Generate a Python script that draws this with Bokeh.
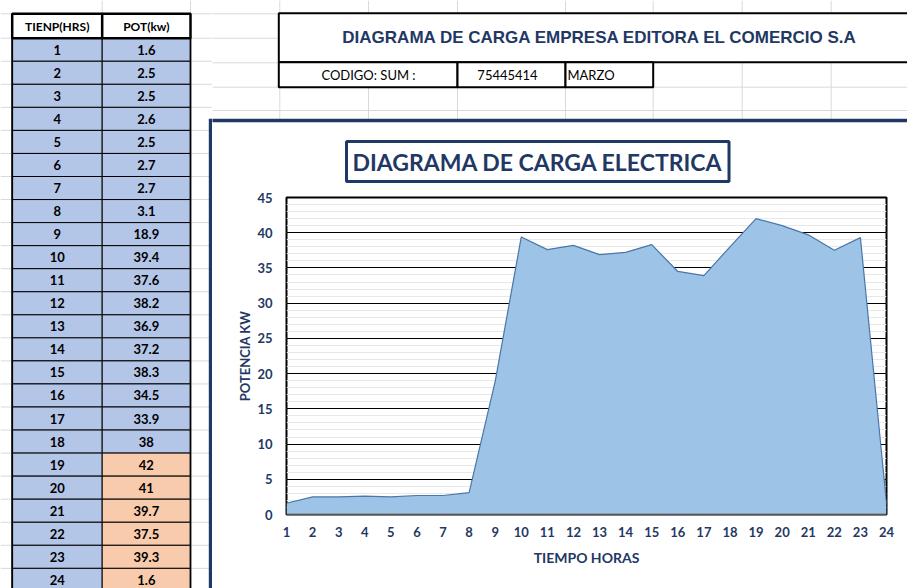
from bokeh.plotting import figure
from bokeh.layouts import row, column
from bokeh.models import Range1d, FixedTicker, Span
from bokeh.embed import file_html
from bokeh.resources import INLINE
from bokeh.core.properties import value

# ---------------- data ----------------
hours = list(range(1, 25))
power = [1.6, 2.5, 2.5, 2.6, 2.5, 2.7, 2.7, 3.1, 18.9, 39.4, 37.6, 38.2,
         36.9, 37.2, 38.3, 34.5, 33.9, 38, 42, 41, 39.7, 37.5, 39.3, 1.6]
peak_hours = [19, 20, 21, 22, 23, 24]
y_ticks = [0, 5, 10, 15, 20, 25, 30, 35, 40, 45]
x_ticks = hours
table_headers = ["TIENP(HRS)", "POT(kw)"]
sheet_title = "DIAGRAMA DE CARGA EMPRESA EDITORA EL COMERCIO S.A"
code_label = "CODIGO: SUM :"
code_value = "75445414"
month = "MARZO"
chart_title = "DIAGRAMA DE CARGA ELECTRICA"
y_label = "POTENCIA KW"
x_label = "TIEMPO HORAS"

# ---------------- style ----------------
NAVY = "#1F3864"
BLUE_CELL = "#B4C6E7"
ORANGE_CELL = "#F8CBAD"
GRID = "#D9D9D9"
FONT = value("Lato")

# ---------------- table (left) ----------------
ROW_TOP = 37.7
ROW_H = 23.05


def ry(ref_y):
    return (ref_y - ROW_TOP) / ROW_H + 0.5


t = figure(width=212, height=588, x_range=Range1d(0, 212),
           y_range=Range1d(ry(588), ry(0)), toolbar_location=None,
           output_backend="svg", min_border=0, x_axis_type=None, y_axis_type=None,
           frame_align=False)
t.grid.visible = False
t.outline_line_color = None

C0L, C0R, C1R = 11.7, 101.7, 190.0
# spreadsheet gridlines
bounds = [ry(13.3)] + [hr + 0.5 for hr in range(0, 25)]
t.segment(x0=[0] * len(bounds), y0=bounds, x1=[C0L] * len(bounds), y1=bounds,
          line_color=GRID, line_width=1)
t.segment(x0=[C1R] * len(bounds), y0=bounds, x1=[212] * len(bounds), y1=bounds,
          line_color=GRID, line_width=1)
t.segment(x0=[C0R, C1R], y0=[ry(0), ry(0)], x1=[C0R, C1R], y1=[ry(13.3), ry(13.3)],
          line_color=GRID, line_width=1)

cell_colors = [ORANGE_CELL if hr in peak_hours else BLUE_CELL for hr in hours]
t.quad(left=C0L, right=C0R, top=[hr - 0.5 for hr in hours], bottom=[hr + 0.5 for hr in hours],
       fill_color=BLUE_CELL, line_color="black", line_width=1)
t.quad(left=C0R, right=C1R, top=[hr - 0.5 for hr in hours], bottom=[hr + 0.5 for hr in hours],
       fill_color=cell_colors, line_color="black", line_width=1)
# outer border of body
t.segment(x0=[C0L, C1R], y0=[0.5, 0.5], x1=[C0L, C1R], y1=[26, 26],
          line_color="black", line_width=1.8)
# header row
t.quad(left=[C0L, C0R], right=[C0R, C1R], top=ry(13.3), bottom=0.5,
       fill_color="white", line_color="black", line_width=2.5)
t.text(x=[(C0L + C0R) / 2, (C0R + C1R) / 2], y=[(ry(13.3) + 0.5) / 2] * 2, text=table_headers,
       text_font=FONT, text_font_style="bold", text_font_size="12px", text_color="black",
       text_align="center", text_baseline="middle")
t.text(x=(C0L + C0R) / 2, y=hours, text=[str(hr) for hr in hours],
       text_font=FONT, text_font_style="bold", text_font_size="13px", text_color="black",
       text_align="center", text_baseline="middle")
t.text(x=(C0R + C1R) / 2, y=hours, text=[f"{v:g}" for v in power],
       text_font=FONT, text_font_style="bold", text_font_size="13px", text_color="black",
       text_align="center", text_baseline="middle")
# chart outer border (left side)
t.segment(x0=[210.3], y0=[ry(118.3)], x1=[210.3], y1=[ry(600)], line_color=NAVY, line_width=4)

# ---------------- header (top right) ----------------
h = figure(width=695, height=123, x_range=Range1d(212, 907), y_range=Range1d(123, 0),
           toolbar_location=None, output_backend="svg", min_border=0,
           x_axis_type=None, y_axis_type=None, frame_align=False)
h.grid.visible = False
h.outline_line_color = None
# gridlines
h.segment(x0=[212, 212, 212, 212, 212], y0=[13.3, 37.7, 62.3, 86.7, 110],
          x1=[279, 279, 279, 907, 907], y1=[13.3, 37.7, 62.3, 86.7, 110],
          line_color=GRID, line_width=1)
vx = [279.3, 368, 457, 565, 652.7, 741.7, 830.7]
h.segment(x0=vx, y0=[0] * len(vx), x1=vx, y1=[12.7] * len(vx), line_color=GRID, line_width=1)
vtop = [86.7, 86.7, 86.7, 86.7, 86.7, 61.7, 61.7]
h.segment(x0=vx, y0=vtop, x1=vx, y1=[118.3] * len(vx), line_color=GRID, line_width=1)
# title box and code row
h.quad(left=278.3, right=930, top=12.7, bottom=61.7, fill_color="white",
       line_color="black", line_width=2)
h.quad(left=[278.3, 457, 565], right=[457, 565, 652.7], top=61.7, bottom=86.7,
       fill_color="white", line_color="black", line_width=2)
h.text(x=[600], y=[37.3], text=[sheet_title], text_font=value("Liberation Sans"),
       text_font_style="bold", text_font_size="17px", text_color=NAVY,
       text_align="center", text_baseline="middle")
h.text(x=[368, 507], y=[74.5, 74.5], text=[code_label, code_value], text_font=FONT,
       text_font_size="13px", text_color="black", text_align="center", text_baseline="middle")
h.text(x=[567], y=[74.5], text=[month], text_font=FONT, text_font_size="13px",
       text_color="black", text_align="left", text_baseline="middle")
h.segment(x0=[205], y0=[120], x1=[915], y1=[120], line_color=NAVY, line_width=3.4)

# ---------------- chart ----------------
p = figure(width=695, height=465, x_range=Range1d(1, 24), y_range=Range1d(0, 45),
           toolbar_location=None, output_backend="svg", frame_align=False,
           min_border_left=74, min_border_right=21, min_border_top=74, min_border_bottom=74)
p.background_fill_color = "white"
p.border_fill_color = "white"
p.outline_line_color = "black"
p.outline_line_width = 2

p.varea(x=hours, y1=0, y2=power, fill_color="#9DC3E6")
p.line(x=hours, y=power, line_color="#4A76A8", line_width=1.2)
p.add_layout(Span(location=0, dimension="width", line_color="#7F7F7F", line_width=2))

p.xaxis.ticker = FixedTicker(ticks=x_ticks)
p.yaxis.ticker = FixedTicker(ticks=y_ticks, minor_ticks=list(range(0, 46)))
p.xgrid.visible = False
p.ygrid.grid_line_color = "black"
p.ygrid.grid_line_width = 1.2
p.ygrid.minor_grid_line_color = "#E8E8E8"
p.ygrid.minor_grid_line_width = 1

for ax in (p.xaxis, p.yaxis):
    ax.axis_line_color = None
    ax.major_tick_line_color = None
    ax.minor_tick_line_color = None
    ax.major_tick_in = 0
    ax.major_tick_out = 0
    ax.minor_tick_in = 0
    ax.minor_tick_out = 0
    ax.major_label_text_font = "Lato"
    ax.major_label_text_font_style = "bold"
    ax.major_label_text_font_size = "13px"
    ax.major_label_text_color = NAVY
    ax.axis_label_text_font = "Lato"
    ax.axis_label_text_font_style = "bold"
    ax.axis_label_text_color = NAVY

p.yaxis.axis_label = y_label
p.yaxis.axis_label_text_font_size = "13px"
p.yaxis.major_label_standoff = 14
p.yaxis.axis_label_standoff = 1
p.xaxis.axis_label = x_label
p.xaxis.axis_label_text_font_size = "14px"
p.xaxis.major_label_standoff = 12
p.xaxis.axis_label_standoff = 9

p.title.text = chart_title
p.title.text_font = "Lato"
p.title.text_font_style = "bold"
p.title.text_font_size = "23px"
p.title.text_color = NAVY
p.title.align = "left"
p.title.offset = 60
p.title.standoff = 32
p.title.border_line_color = NAVY
p.title.border_line_width = 3
p.title.background_fill_color = "white"
p.title.padding = (6, 6)

layout = row(t, column(h, p))
open("out.html", "w").write(file_html(layout, INLINE))
